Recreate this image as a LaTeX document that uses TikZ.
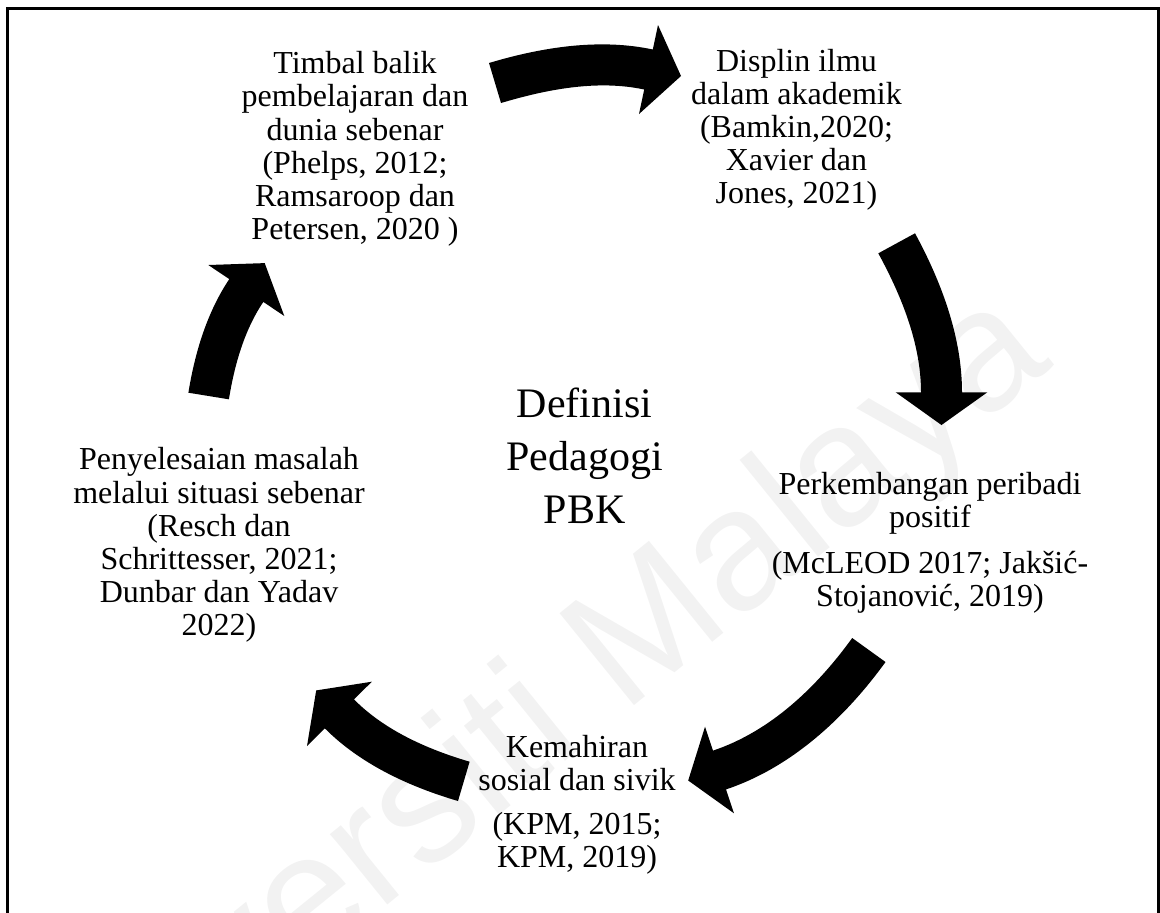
\documentclass[tikz,border=0pt]{standalone}
\usepackage{fontspec}
\setmainfont{Liberation Serif}
\newfontfamily\wmfont{Liberation Sans}
\begin{document}
\begin{tikzpicture}[x=0.5pt,y=-0.5pt,
  lbl/.style={align=center,anchor=north,inner sep=0pt,font=\fontsize{16}{16.6}\selectfont},
  big/.style={align=center,anchor=north,inner sep=0pt,font=\fontsize{21}{26.5}\selectfont},
  arr/.style={fill=black,draw=none},
  wmark/.style={rotate=39,anchor=base east,inner sep=0pt,text=black!5,font=\wmfont\fontsize{86}{86}\selectfont},
  frame/.style={draw=black,line width=1.25pt}]
\useasboundingbox (0,0) rectangle (1160,912);
\clip (0,0) rectangle (1160,912);
% watermark
\node[wmark] (wm) at (1055,365) {Universiti Malaya};
% frame
\draw[frame] (7.5,8.5) rectangle (1158.5,960);
% texts
\node[big] (c) at (584.5,379.9) {\strut Definisi\\\strut Pedagogi\\\strut PBK};
\node[lbl] (t1) at (355,50.1) {\strut Timbal balik\\\strut pembelajaran dan\\\strut dunia sebenar\\\strut (Phelps, 2012;\\\strut Ramsaroop dan\\\strut Petersen, 2020 )};
\node[lbl] (t2) at (796.5,47.5) {\strut Displin ilmu\\\strut dalam akademik\\\strut (Bamkin,2020;\\\strut Xavier dan\\\strut Jones, 2021)};
\node[lbl] (t3) at (930,470.8) {\strut Perkembangan peribadi\\\strut positif\\[6.4pt]\strut (McLEOD 2017; Jakšić-\\\strut Stojanović, 2019)};
\node[lbl] (t4) at (577,733.8) {\strut Kemahiran\\\strut sosial dan sivik\\[5.4pt]\strut (KPM, 2015;\\\strut KPM, 2019)};
\node[lbl] (t5) at (219,446.3) {\strut Penyelesaian masalah\\\strut melalui situasi sebenar\\\strut (Resch dan\\\strut Schrittesser, 2021;\\\strut Dunbar dan Yadav\\\strut 2022)};
% curved block arrows
\fill[arr] (489,63) .. controls (541.4,47.3) and (599.2,38.0) .. (652.8,49.5) -- (658,25) -- (681,76) -- (639,114) -- (644.2,89.5) .. controls (597.4,79.5) and (546.8,89.3) .. (501,103) -- cycle;
\fill[arr] (915,233.3) .. controls (941.4,281.9) and (962,337) .. (962,392.3) -- (987.3,392.3) -- (941.5,425) -- (895.7,392.3) -- (921,392.3) .. controls (921,343.8) and (901.5,295.9) .. (878.3,253.3) -- cycle;
\fill[arr] (885.5,662) .. controls (845,717.9) and (791.4,767.5) .. (726,789.4) -- (734,813.3) -- (688.2,780.5) -- (705,726.7) -- (713,750.6) .. controls (770.5,731.3) and (816.6,687.2) .. (852.2,638) -- cycle;
\fill[arr] (458,801) .. controls (409.5,786.7) and (360.4,764.2) .. (324.8,728.3) -- (307,746) -- (316.2,690.4) -- (371.8,681.7) -- (354,699.4) .. controls (384.8,730.5) and (427.6,749.3) .. (469.6,761.7) -- cycle;
\fill[arr] (188.4,392.7) .. controls (194.8,353.0) and (206.9,312.5) .. (229.3,279.1) -- (208.3,265) -- (264.7,263.1) -- (284.3,316) -- (263.3,301.9) .. controls (244.1,330.5) and (234.4,365.3) .. (228.9,399.3) -- cycle;
\end{tikzpicture}
\end{document}
